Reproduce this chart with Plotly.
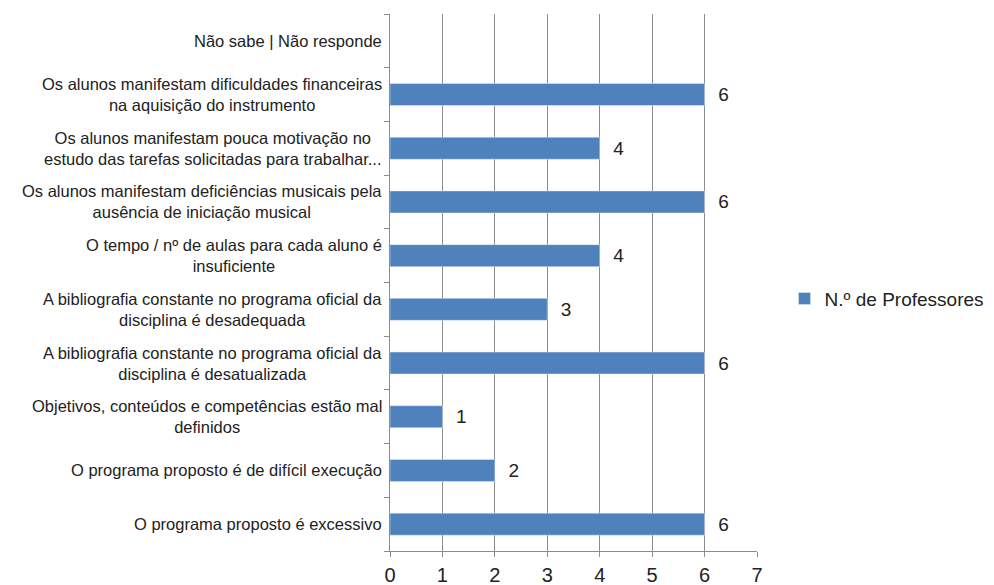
import plotly.graph_objects as go

# Survey answers, bottom to top as drawn on the category axis
categories = [
    "O programa proposto é excessivo",
    "O programa proposto é de difícil execução",
    "Objetivos, conteúdos e competências estão mal<br>definidos",
    "A bibliografia constante no programa oficial da<br>disciplina é desatualizada",
    "A bibliografia constante no programa oficial da<br>disciplina é desadequada",
    "O tempo / nº de aulas para cada aluno é<br>insuficiente",
    "Os alunos manifestam deficiências musicais pela<br>ausência de iniciação musical",
    "Os alunos manifestam pouca motivação no<br>estudo das tarefas solicitadas para trabalhar...",
    "Os alunos manifestam dificuldades financeiras<br>na aquisição do instrumento",
    "Não sabe | Não responde",
]
professores = [6, 2, 1, 6, 3, 4, 6, 4, 6, None]
x_ticks = [0, 1, 2, 3, 4, 5, 6, 7]

BAR = "#4F81BD"
GRID = "#8C8C8C"
FONT = "Liberation Sans"

fig = go.Figure()
fig.add_trace(go.Bar(
    y=categories,
    x=professores,
    orientation="h",
    name="N.º de Professores",
    marker=dict(color=BAR),
    text=[("" if v is None else f"  {v}") for v in professores],
    textposition="outside",
    textfont=dict(family=FONT, size=19, color="#222"),
    cliponaxis=False,
))

# category labels as centred multi-line text blocks
for cat in categories:
    fig.add_annotation(
        x=0, y=cat, xref="paper", yref="y",
        text=cat, showarrow=False,
        xanchor="right", yanchor="middle", align="center",
        xshift=-6,
        font=dict(family=FONT, size=16.5, color="#222"),
    )

fig.update_layout(
    width=994, height=585,
    margin=dict(l=390, r=237, t=14, b=34, autoexpand=False),
    plot_bgcolor="white", paper_bgcolor="white",
    bargap=0.59,
    font=dict(family=FONT, color="#222"),
    showlegend=True,
    legend=dict(
        x=1.075, y=0.47, xanchor="left", yanchor="middle",
        font=dict(family=FONT, size=19, color="#222"),
        itemwidth=30,
    ),
    xaxis=dict(
        range=[0, 7], tickvals=x_ticks,
        showgrid=True, gridcolor=GRID, gridwidth=1,
        showline=True, linecolor=GRID,
        ticks="outside", ticklen=5, tickcolor=GRID,
        tickfont=dict(family=FONT, size=20, color="#222"),
        ticklabelstandoff=1,
        zeroline=False, automargin=False,
    ),
    yaxis=dict(
        type="category", categoryorder="array", categoryarray=categories,
        showticklabels=False,
        showline=True, linecolor=GRID,
        ticks="outside", ticklen=5, tickcolor=GRID, tickson="boundaries",
        showgrid=False, automargin=False,
    ),
)

fig.write_html("out.html")
